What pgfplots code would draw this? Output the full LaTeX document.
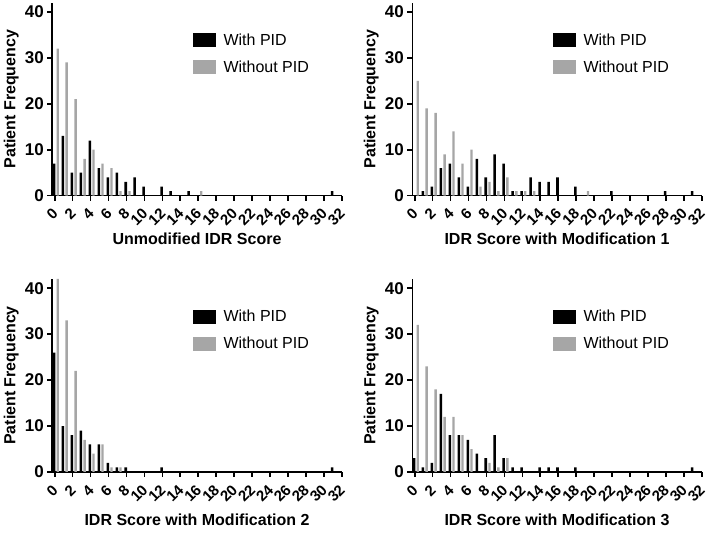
\documentclass[border=0pt]{standalone}
\usepackage{fontspec}
\setmainfont{Liberation Sans}
\usepackage{pgfplots}
\pgfplotsset{compat=1.18}
\definecolor{pidgray}{RGB}{166,166,166}

\pgfplotsset{
  idr/.style={
    scale only axis, width=289.4pt, height=193pt,
    xmin=-0.27, xmax=32, ymin=0, ymax=42,
    axis x line*=bottom, axis y line*=left,
    axis line style={line width=1.6pt},
    every tick/.style={line width=1.6pt, black},
    major tick length=5pt,
    tick align=outside,
    xtick={0,2,...,32}, ytick={0,10,20,30,40},
    /pgf/number format/assume math mode=true,
    yticklabel style={font=\fontsize{17}{17}\selectfont\bfseries},
    xticklabel style={font=\fontsize{15}{15}\selectfont\bfseries, xshift=3pt, yshift=-8pt, rotate=45, anchor=east},
    ylabel={Patient Frequency},
    ylabel style={font=\fontsize{16}{19}\selectfont\bfseries, at={(axis description cs:-0.142,0.5)}, anchor=center},
    xlabel style={font=\fontsize{16}{19}\selectfont\bfseries, at={(axis description cs:0.5,0)}, anchor=center, yshift=-43pt},
    legend style={draw=none, fill=none, inner sep=0pt, at={(axis description cs:0.484,0.85)}, anchor=north west,
      font=\fontsize{16}{19}\selectfont, row sep=10pt,
      /tikz/every odd column/.append style={column sep=6pt}},
    legend cell align=left,
    legend image code/.code={\fill[##1] (0pt,-7pt) rectangle (23pt,7pt);},
  },
  withpid/.style={ybar, bar width=0.28, bar shift=-0.08, fill=black, draw=none},
  without/.style={ybar, bar width=0.26, bar shift=0.33, fill=pidgray, draw=none},
}

\begin{document}
\begin{tikzpicture}

% Panel 1: Unmodified
\begin{axis}[idr, at={(0pt,276.3pt)}, anchor=south west, xlabel={Unmodified IDR Score}]
\addplot[withpid] coordinates {(0,7)(1,13)(2,5)(3,5)(4,12)(5,6)(6,4)(7,5)(8,3)(9,4)(10,2)(12,2)(13,1)(15,1)(31,1)};
\addplot[without] coordinates {(0,32)(1,29)(2,21)(3,8)(4,10)(5,7)(6,6)(7,1)(8,1)(16,1)};
\legend{With PID, Without PID}
\end{axis}

% Panel 2: Modification 1
\begin{axis}[idr, at={(360pt,276.3pt)}, anchor=south west, xlabel={IDR Score with Modification 1}]
\addplot[withpid] coordinates {(1,1)(2,2)(3,6)(4,7)(5,4)(6,2)(7,8)(8,4)(9,9)(10,7)(11,1)(12,1)(13,4)(14,3)(15,3)(16,4)(18,2)(22,1)(28,1)(31,1)};
\addplot[without] coordinates {(0,25)(1,19)(2,18)(3,9)(4,14)(5,7)(6,10)(7,2)(8,3)(9,1)(10,4)(11,1)(12,1)(13,1)(19,1)};
\legend{With PID, Without PID}
\end{axis}

% Panel 3: Modification 2
\begin{axis}[idr, at={(0pt,0pt)}, anchor=south west, xlabel={IDR Score with Modification 2}, xlabel style={yshift=-5pt}]
\addplot[withpid] coordinates {(0,26)(1,10)(2,8)(3,9)(4,6)(5,6)(6,2)(7,1)(8,1)(12,1)(31,1)};
\addplot[without] coordinates {(0,42)(1,33)(2,22)(3,7)(4,4)(5,6)(6,1)(7,1)};
\legend{With PID, Without PID}
\end{axis}

% Panel 4: Modification 3
\begin{axis}[idr, at={(360pt,0pt)}, anchor=south west, xlabel={IDR Score with Modification 3}, xlabel style={yshift=-5pt}]
\addplot[withpid] coordinates {(0,3)(1,1)(2,2)(3,17)(4,8)(5,8)(6,7)(7,4)(8,3)(9,8)(10,3)(11,1)(12,1)(14,1)(15,1)(16,1)(18,1)(31,1)};
\addplot[without] coordinates {(0,32)(1,23)(2,18)(3,12)(4,12)(5,8)(6,5)(8,2)(9,1)(10,3)};
\legend{With PID, Without PID}
\end{axis}

\pgfresetboundingbox
\path (-52.3pt,-62pt) rectangle (656.7pt,472pt);
\end{tikzpicture}
\end{document}
